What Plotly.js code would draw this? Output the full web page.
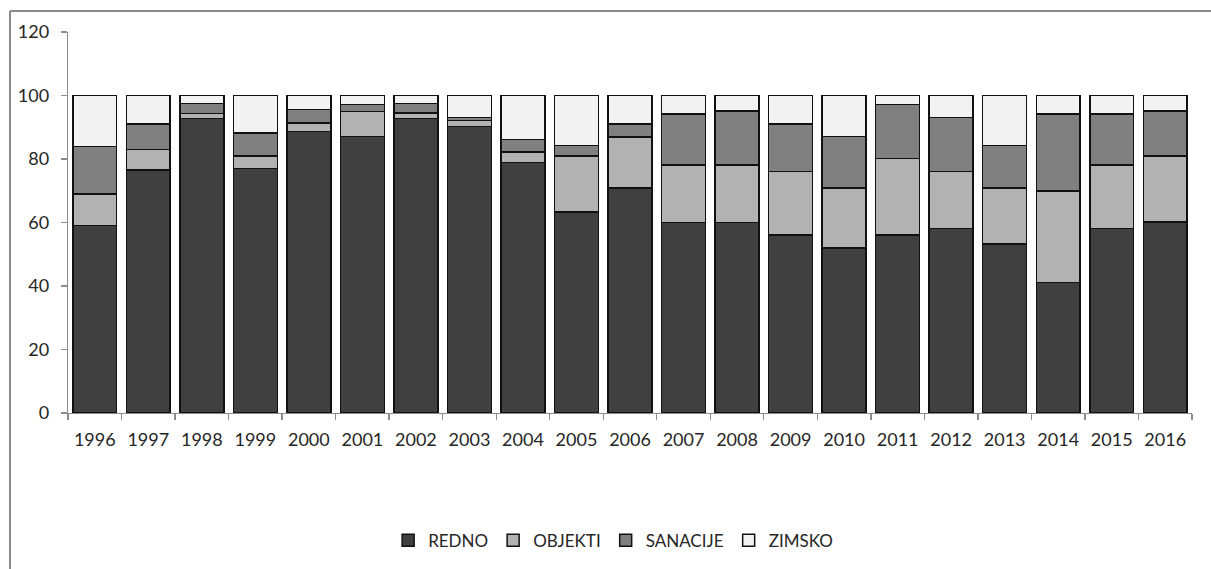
<!DOCTYPE html>
<html>
<head>
<meta charset="utf-8">
<script src="https://cdn.plot.ly/plotly-3.0.1.min.js"></script>
<style>html,body{margin:0;padding:0;background:#fff;}#chart{width:1211px;height:569px;}</style>
</head>
<body>
<div id="chart"></div>
<script>
const years = ["1996","1997","1998","1999","2000","2001","2002","2003","2004","2005","2006","2007","2008","2009","2010","2011","2012","2013","2014","2015","2016"];
const redno    = [59, 76.5, 92.7, 77, 88.7, 87.1, 92.7, 90.3, 78.9, 63.3, 70.9, 60, 60, 56, 52, 56, 58.1, 53.2, 41.1, 58.1, 60.1];
const objekti  = [10, 6.5, 1.6, 4, 2.6, 7.9, 1.8, 1.9, 3.3, 17.6, 16.1, 18.1, 18.1, 20.1, 18.9, 24.2, 18, 17.7, 28.9, 20, 20.8];
const sanacije = [15, 8, 3.2, 7.2, 4.3, 2.1, 3, 0.9, 4, 3.4, 4, 16.1, 17, 14.9, 16.2, 16.9, 17, 13.4, 24.2, 16.1, 14.2];
const zimsko   = [16, 9, 2.5, 11.8, 4.4, 2.9, 2.5, 6.9, 13.8, 15.7, 9, 5.8, 4.9, 9, 12.9, 2.9, 6.9, 15.7, 5.8, 5.8, 4.9];
const seriesNames = ["REDNO","OBJEKTI","SANACIJE","ZIMSKO"];
const seriesColors = ["#404040","#b2b2b2","#808080","#f2f2f2"];
const seriesValues = [redno, objekti, sanacije, zimsko];

const traces = seriesNames.map((n, i) => ({
  type: "bar",
  name: n,
  x: years,
  y: seriesValues[i],
  marker: {color: seriesColors[i], line: {color: "#111111", width: 1.5}},
  hoverinfo: "x+y+name"
}));

const axisFont = {family: "Lato, 'Open Sans', sans-serif", size: 18, color: "#262626"};
const layout = {
  width: 1211, height: 569,
  margin: {l: 68, r: 19, t: 32, b: 155},
  paper_bgcolor: "#ffffff", plot_bgcolor: "#ffffff",
  barmode: "stack",
  bargap: 0.18,
  showlegend: true,
  legend: {
    orientation: "h", x: 0.485, xanchor: "center", y: -0.332, yanchor: "middle",
    font: {family: "Lato, 'Open Sans', sans-serif", size: 17, color: "#262626"},
    traceorder: "normal", itemwidth: 30
  },
  xaxis: {
    type: "category",
    tickson: "boundaries",
    ticks: "outside", ticklen: 6, tickcolor: "#8c8c8c", tickwidth: 1.3,
    showline: true, linecolor: "#8c8c8c", linewidth: 1.3,
    showgrid: false, zeroline: false,
    tickfont: axisFont,
    ticklabelstandoff: 10,
    fixedrange: true
  },
  yaxis: {
    range: [0, 120], dtick: 20, tick0: 0,
    ticks: "outside", ticklen: 6, tickcolor: "#8c8c8c", tickwidth: 1.3,
    showline: true, linecolor: "#8c8c8c", linewidth: 1.3,
    showgrid: false, zeroline: false,
    tickfont: axisFont,
    ticklabelstandoff: 8,
    fixedrange: true
  },
  shapes: [
    {type: "line", xref: "paper", yref: "paper", x0: -0.0516, x1: 1.02, y0: 1.055, y1: 1.055, line: {color: "#8a8a8a", width: 2}},
    {type: "line", xref: "paper", yref: "paper", x0: -0.0516, x1: -0.0516, y0: 1.055, y1: -0.41, line: {color: "#8a8a8a", width: 2}}
  ]
};

Plotly.newPlot("chart", traces, layout, {displayModeBar: false, staticPlot: true});
</script>
</body>
</html>
